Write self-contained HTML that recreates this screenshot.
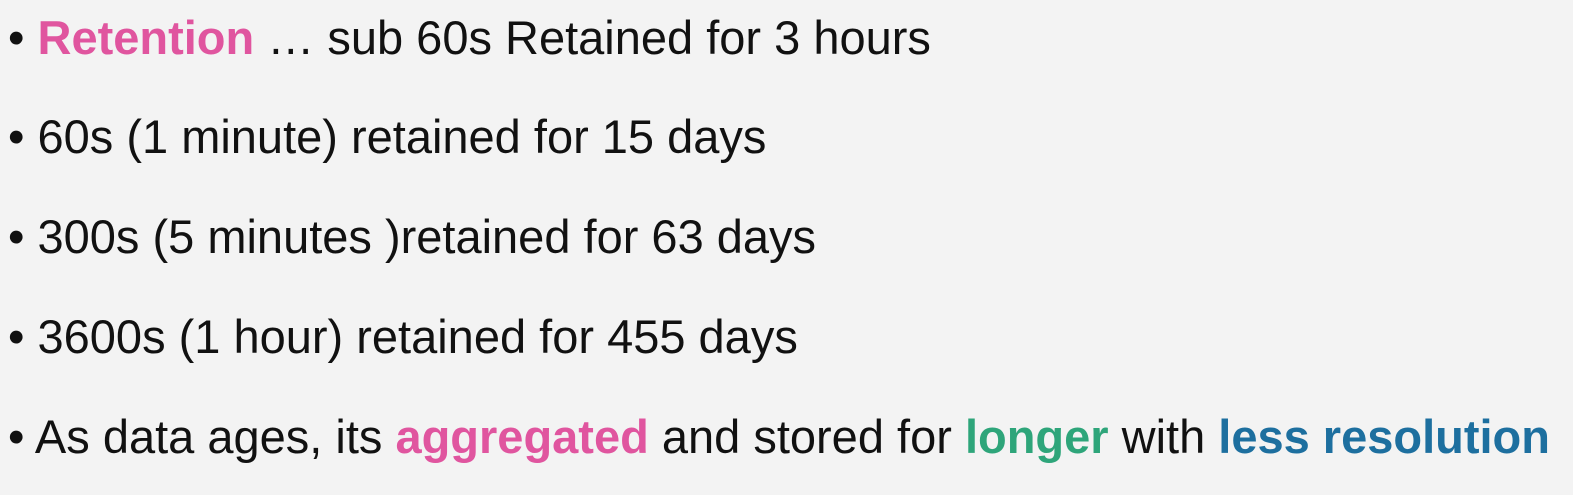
<!DOCTYPE html>
<html><head><meta charset="utf-8"><style>
html,body{margin:0;padding:0;}
body{width:1573px;height:495px;background:#f3f3f3;overflow:hidden;position:relative;font-family:"Liberation Sans",sans-serif;color:#111;}
.l{position:absolute;left:8px;font-size:47px;white-space:nowrap;line-height:50px;}
.b{font-weight:bold;}
.pink{color:#e0559f;}
.green{color:#2ea57a;}
.blue{color:#1d6f9f;}
</style></head><body>
<div class="l" style="top:13px">• <span class="b pink">Retention</span> … sub 60s Retained for 3 hours</div>
<div class="l" style="top:112px">• 60s (1 minute) retained for 15 days</div>
<div class="l" style="top:212px">• 300s (5 minutes )retained for 63 days</div>
<div class="l" style="top:312px">• 3600s (1 hour) retained for 455 days</div>
<div class="l" style="top:412px">• As data ages, its <span class="b pink">aggregated</span> and stored for <span class="b green">longer</span> with <span class="b blue">less resolution</span></div>
</body></html>
